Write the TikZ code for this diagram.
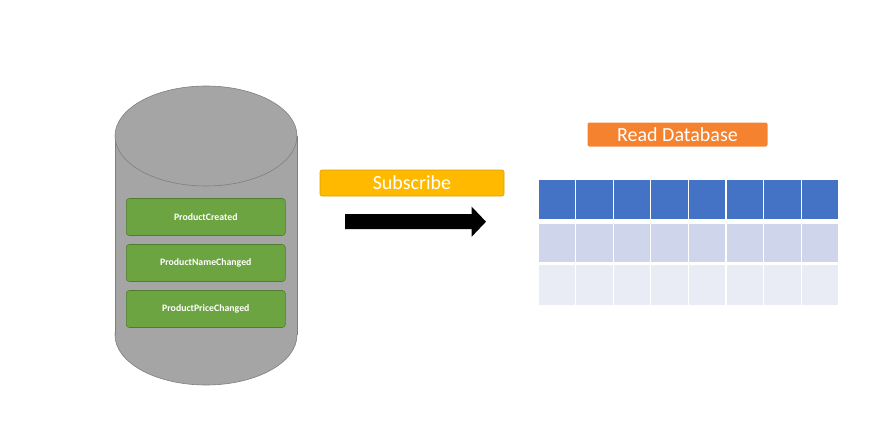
\documentclass[tikz,border=0pt]{standalone}
\usepackage{fontspec}
\setmainfont{Carlito}
\definecolor{cylfill}{HTML}{A5A5A5}
\definecolor{cyldraw}{HTML}{7F7F7F}
\definecolor{evfill}{HTML}{6CA442}
\definecolor{evdraw}{HTML}{4F7D30}
\definecolor{subfill}{HTML}{FFBA00}
\definecolor{subdraw}{HTML}{D9A000}
\definecolor{readfill}{HTML}{F5822F}
\definecolor{hdrfill}{HTML}{4472C4}
\definecolor{rowa}{HTML}{CFD5EA}
\definecolor{rowb}{HTML}{E9EBF5}
\tikzset{
  evbox/.style={draw=evdraw, fill=evfill, rounded corners=3pt, line width=0.6pt,
    minimum width=159pt, minimum height=37pt, inner sep=0pt,
    text=white, font=\fontsize{9.8}{11}\selectfont\bfseries},
  labelbox/.style={rounded corners=2pt, inner sep=0pt, text=white,
    font=\fontsize{20}{22}\selectfont},
  cell/.style={draw=white, line width=1.2pt, minimum width=37.6pt, inner sep=0pt}
}
\begin{document}
\begin{tikzpicture}[x=1pt,y=-1pt]
\useasboundingbox (0,0) rectangle (876,431);
% cylinder
\filldraw[fill=cylfill, draw=cyldraw, line width=0.6pt] (206,335) ellipse [x radius=91pt, y radius=50pt];
\fill[cylfill] (115,136) rectangle (297,335);
\draw[cyldraw, line width=0.6pt] (115,136) -- (115,335) (297,136) -- (297,335);
\filldraw[fill=cylfill, draw=cyldraw, line width=0.6pt] (206,136) ellipse [x radius=91pt, y radius=50pt];
% events
\node[evbox] (created) at (205.8,217) {ProductCreated};
\node[evbox] (namechanged) at (205.8,263) {ProductNameChanged};
\node[evbox] (pricechanged) at (205.8,309) {ProductPriceChanged};
% subscribe
\node[labelbox, draw=subdraw, fill=subfill, line width=0.6pt, minimum width=184pt, minimum height=26pt] (subscribe) at (412,183) {Subscribe};
% block arrow
\fill[black] (345,214) -- (471.7,214) -- (471.7,206.7) -- (486,221.7) -- (471.7,236.7) -- (471.7,229) -- (345,229) -- cycle;
% read database
\node[labelbox, fill=readfill, minimum width=180pt, minimum height=24pt] (read) at (677.5,134.5) {Read Database};
% table
\foreach \i in {0,...,7} {
  \node[cell, fill=hdrfill, minimum height=40pt] (h\i) at ({538+37.6*(\i+0.5)},199.6) {};
  \node[cell, fill=rowa, minimum height=40pt] (a\i) at ({538+37.6*(\i+0.5)},243) {};
  \node[cell, fill=rowb, minimum height=41pt] (b\i) at ({538+37.6*(\i+0.5)},284.6) {};
}
\end{tikzpicture}
\end{document}
